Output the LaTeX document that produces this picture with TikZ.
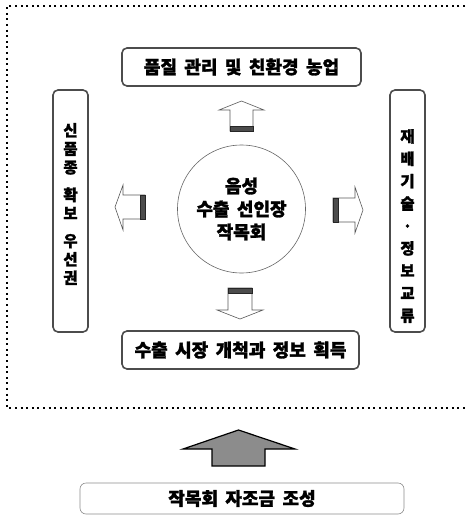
\documentclass[tikz,border=0pt]{standalone}
\usepackage{fontspec}
\newfontfamily\kr{Noto Sans CJK KR}[WordSpace=1.8, BoldFeatures={FakeBold=1.6}]
\begin{document}
\begin{tikzpicture}[x=1pt,y=-1pt,
  hbox/.style={draw=black!70, line width=1.6pt, rounded corners=5pt, inner sep=0pt},
  txt/.style={font=\kr\bfseries\fontsize{18}{21}\selectfont},
  vtxt/.style={align=center, inner sep=0pt},
  hollow/.style={draw=black!65, line width=0.6pt, fill=white, line join=miter},
  band/.style={fill=black!70, draw=black!85, line width=0.4pt},
  frame/.style={line width=2pt, dash pattern=on 2pt off 3.6pt}]
\useasboundingbox (0,0) rectangle (467,527);
% dotted frame (open on the right)
\draw[frame] (465,6) -- (7,6) -- (7,408) -- (465,408);
% boxes
\node[hbox, minimum width=239pt, minimum height=38pt, txt] (top) at (241.5,67) {품질 관리 및 친환경 농업};
\node[hbox, minimum width=237pt, minimum height=38pt, txt] (bot) at (240.5,350) {수출 시장 개척과 정보 획득};
\node[hbox, minimum width=35pt, minimum height=242pt] (left) at (70.5,211) {};
\node[vtxt, font=\kr\bfseries\fontsize{15.5}{18.5}\selectfont] (lefttxt) at (70.5,204) {신\\품\\종\\[9pt]확\\보\\[9pt]우\\선\\권};
\node[hbox, minimum width=35pt, minimum height=242pt] (right) at (407.5,211) {};
\node[vtxt, font=\kr\bfseries\fontsize{15.5}{22.4}\selectfont] (righttxt) at (407.5,226) {재\\배\\기\\술\\·\\정\\보\\교\\류};
% hub
\node[circle, draw=black!60, line width=0.6pt, minimum size=128pt, inner sep=0pt, align=center,
      font=\kr\bfseries\fontsize{18}{23}\selectfont] (hub) at (241.5,209) {음성\\수출 선인장\\작목회};
% hollow arrows
\draw[hollow] (230,131) -- (230,110) -- (219,110) -- (241.5,101) -- (264,110) -- (253,110) -- (253,131) -- cycle;
\draw[band] (230,126) rectangle (253,131);
\draw[hollow] (145,195) -- (123,195) -- (123,185) -- (115,207) -- (123,230) -- (123,219) -- (145,219) -- cycle;
\draw[band] (140,195) rectangle (145,219);
\draw[hollow] (333,198) -- (355,198) -- (355,187) -- (363,210) -- (355,233) -- (355,222) -- (333,222) -- cycle;
\draw[band] (333,198) rectangle (338,222);
\draw[hollow] (228,288) -- (252,288) -- (252,310) -- (263,310) -- (240,319) -- (217,310) -- (228,310) -- cycle;
\draw[band] (228,288) rectangle (252,293);
% big grey arrow
\draw[fill=black!45, draw=black, line width=1.2pt, line join=miter] (212,466) -- (212,449) -- (183,449) -- (238.5,430) -- (295,449) -- (265,449) -- (265,466) -- cycle;
% fund box
\node[draw=black!45, line width=0.6pt, rounded corners=6pt, minimum width=324pt, minimum height=31pt, txt] (fund) at (242,498.5) {작목회 자조금 조성};
\end{tikzpicture}
\end{document}
